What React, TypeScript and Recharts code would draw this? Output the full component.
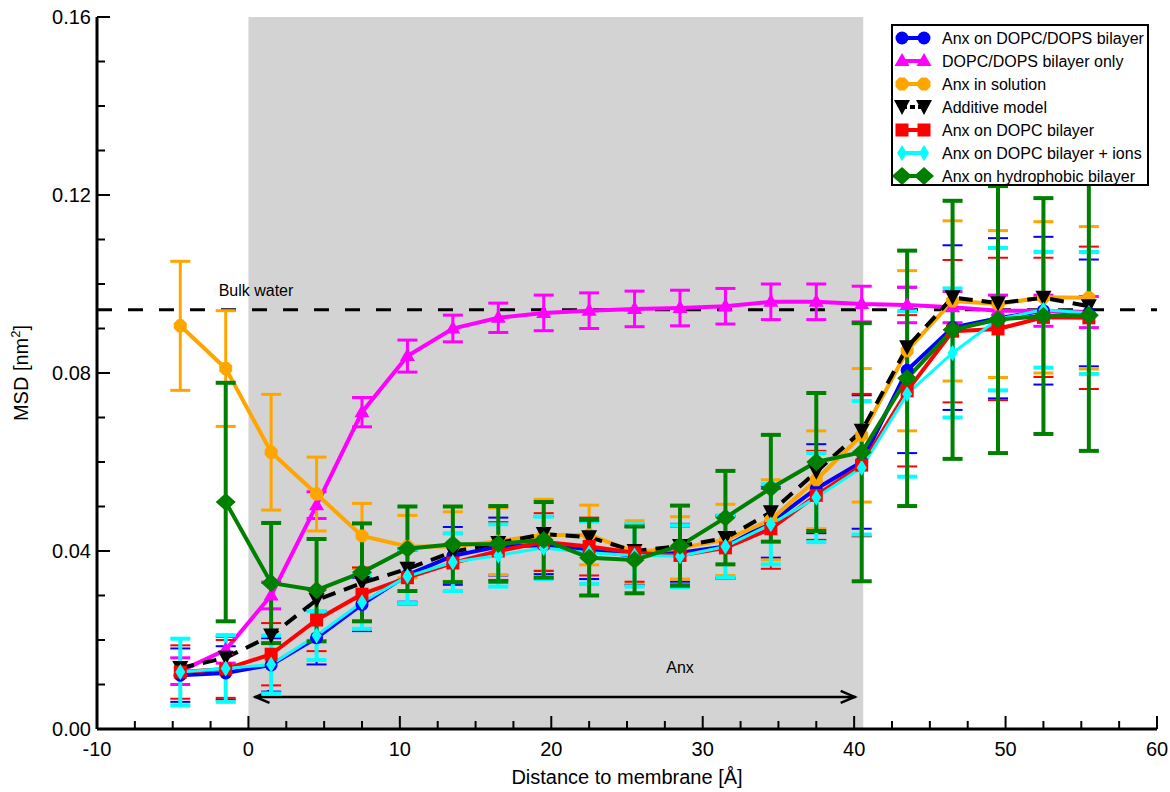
import { ComposedChart, Line, XAxis, YAxis, ErrorBar, ReferenceArea, ReferenceLine, ReferenceDot, Label } from "recharts";

// distance to membrane [Å]
const distance = [-4.5, -1.5, 1.5, 4.5, 7.5, 10.5, 13.5, 16.5, 19.5, 22.5, 25.5, 28.5, 31.5, 34.5, 37.5, 40.5, 43.5, 46.5, 49.5, 52.5, 55.5];

const anxDopcDops = [0.0121, 0.0126, 0.0144, 0.0205, 0.028, 0.0346, 0.0389, 0.041, 0.0413, 0.0402, 0.0389, 0.0396, 0.041, 0.0465, 0.054, 0.06, 0.0806, 0.0902, 0.0923, 0.094, 0.0935];
const anxDopcDopsErr = [0.006, 0.006, 0.006, 0.006, 0.006, 0.006, 0.0065, 0.0065, 0.0065, 0.0065, 0.0065, 0.0065, 0.007, 0.008, 0.01, 0.015, 0.0186, 0.0185, 0.018, 0.0166, 0.012];

const bilayerOnly = [0.013, 0.0178, 0.03, 0.0503, 0.0712, 0.0838, 0.09, 0.0924, 0.0935, 0.094, 0.0944, 0.0946, 0.095, 0.096, 0.096, 0.0955, 0.0953, 0.0948, 0.094, 0.094, 0.0937];
const bilayerOnlyErr = [0.003, 0.003, 0.003, 0.003, 0.0033, 0.0036, 0.003, 0.0033, 0.004, 0.004, 0.004, 0.004, 0.004, 0.004, 0.004, 0.004, 0.004, 0.0035, 0.0035, 0.0035, 0.0035];

const anxSolution = [0.0906, 0.081, 0.0622, 0.0528, 0.0434, 0.041, 0.041, 0.0422, 0.0436, 0.0436, 0.0398, 0.0407, 0.0425, 0.047, 0.056, 0.066, 0.085, 0.0962, 0.0955, 0.097, 0.0969];
const anxSolutionErr = [0.0145, 0.013, 0.013, 0.0083, 0.0073, 0.007, 0.0078, 0.0075, 0.008, 0.0067, 0.007, 0.007, 0.008, 0.009, 0.011, 0.015, 0.018, 0.018, 0.0165, 0.017, 0.016];

const additiveModel = [0.0137, 0.016, 0.021, 0.029, 0.0328, 0.036, 0.0398, 0.0418, 0.0438, 0.0431, 0.04, 0.0411, 0.0429, 0.0487, 0.0578, 0.067, 0.0858, 0.097, 0.0957, 0.0969, 0.095];

const anxDopc = [0.0128, 0.0135, 0.0168, 0.0245, 0.0303, 0.034, 0.0373, 0.04, 0.042, 0.041, 0.0396, 0.039, 0.0407, 0.045, 0.0525, 0.0593, 0.076, 0.0894, 0.0899, 0.0925, 0.0924];
const anxDopcErr = [0.006, 0.0065, 0.007, 0.007, 0.006, 0.006, 0.0065, 0.0065, 0.0065, 0.0065, 0.0065, 0.0065, 0.007, 0.009, 0.01, 0.016, 0.017, 0.016, 0.016, 0.0134, 0.016];

const anxDopcIons = [0.0128, 0.0136, 0.0145, 0.021, 0.0285, 0.0343, 0.0375, 0.039, 0.0407, 0.0396, 0.039, 0.0388, 0.041, 0.046, 0.052, 0.0587, 0.0753, 0.0845, 0.0921, 0.0942, 0.0935];
const anxDopcIonsErr = [0.0075, 0.0075, 0.0065, 0.0055, 0.006, 0.006, 0.0065, 0.007, 0.007, 0.007, 0.007, 0.007, 0.007, 0.009, 0.01, 0.015, 0.0186, 0.0145, 0.016, 0.013, 0.0137];

const anxHydrophobic = [null, 0.051, 0.0328, 0.0312, 0.0352, 0.0405, 0.0415, 0.0416, 0.0425, 0.0385, 0.038, 0.0412, 0.0475, 0.0541, 0.06, 0.0622, 0.0788, 0.0897, 0.092, 0.0928, 0.093];
const anxHydrophobicErr = [null, 0.0268, 0.0135, 0.0115, 0.011, 0.0095, 0.0085, 0.0085, 0.0085, 0.0085, 0.0075, 0.009, 0.0105, 0.012, 0.0155, 0.029, 0.0287, 0.029, 0.03, 0.0265, 0.0305];

const xMajorTicks = [-10, 0, 10, 20, 30, 40, 50, 60];
const yMajorTicks = [0, 0.04, 0.08, 0.12, 0.16];

// annotations
const bulkWater = 0.0942;
const anxRegion = [0, 40.6];
const anxArrow = [0.4, 40.1, 0.0072];

const FONT = '"Liberation Sans", Arial, Helvetica, sans-serif';

const data = distance.map((x, i) => ({
  x,
  anxDopcDops: anxDopcDops[i], anxDopcDopsErr: anxDopcDopsErr[i],
  bilayerOnly: bilayerOnly[i], bilayerOnlyErr: bilayerOnlyErr[i],
  anxSolution: anxSolution[i], anxSolutionErr: anxSolutionErr[i],
  additiveModel: additiveModel[i],
  anxDopc: anxDopc[i], anxDopcErr: anxDopcErr[i],
  anxDopcIons: anxDopcIons[i], anxDopcIonsErr: anxDopcIonsErr[i],
  anxHydrophobic: anxHydrophobic[i], anxHydrophobicErr: anxHydrophobicErr[i],
}));

const xTicks = xMajorTicks.slice(0, -1).flatMap(v => [v, v + 2.5, v + 5, v + 7.5]).concat(60);
const yTicks = yMajorTicks.slice(0, -1).flatMap(v => [v, v + 0.01, v + 0.02, v + 0.03]).concat(0.16);

const isMajor = (v: number, step: number) => Math.abs(v / step - Math.round(v / step)) < 1e-6;

type Series = { key: string; name: string; color: string; shape: string; width: number; dash?: string; errWidth?: number };

const SERIES: Series[] = [
  { key: "anxDopcDops", name: "Anx on DOPC/DOPS bilayer", color: "#0000ff", shape: "circle", width: 4, errWidth: 2 },
  { key: "bilayerOnly", name: "DOPC/DOPS bilayer only", color: "#ff00ff", shape: "triUp", width: 4, errWidth: 3 },
  { key: "anxSolution", name: "Anx in solution", color: "#ffa500", shape: "octagon", width: 4, errWidth: 3 },
  { key: "additiveModel", name: "Additive model", color: "#000000", shape: "triDown", width: 4, dash: "14 9" },
  { key: "anxDopc", name: "Anx on DOPC bilayer", color: "#ff0000", shape: "square", width: 4, errWidth: 2 },
  { key: "anxDopcIons", name: "Anx on DOPC bilayer + ions", color: "#00ffff", shape: "thinDiamond", width: 3, errWidth: 4 },
  { key: "anxHydrophobic", name: "Anx on hydrophobic bilayer", color: "#008000", shape: "diamond", width: 4, errWidth: 4 },
];

function shapeAt(shape: string, cx: number, cy: number, color: string, key?: any) {
  switch (shape) {
    case "circle":
      return <circle key={key} cx={cx} cy={cy} r={6.5} fill={color} />;
    case "triUp":
      return <polygon key={key} points={`${cx},${cy - 8} ${cx - 7.5},${cy + 5} ${cx + 7.5},${cy + 5}`} fill={color} />;
    case "octagon": {
      const r = 7;
      const pts = [0, 1, 2, 3, 4, 5, 6, 7].map(k => {
        const a = (Math.PI / 4) * k + Math.PI / 8;
        return `${cx + r * Math.cos(a)},${cy + r * Math.sin(a)}`;
      }).join(" ");
      return <polygon key={key} points={pts} fill={color} />;
    }
    case "triDown":
      return <polygon key={key} points={`${cx - 8},${cy - 7} ${cx + 8},${cy - 7} ${cx},${cy + 8}`} fill={color} />;
    case "square":
      return <rect key={key} x={cx - 6.5} y={cy - 6.5} width={13} height={13} fill={color} />;
    case "thinDiamond":
      return <polygon key={key} points={`${cx},${cy - 8} ${cx + 5},${cy} ${cx},${cy + 8} ${cx - 5},${cy}`} fill={color} />;
    default:
      return <polygon key={key} points={`${cx},${cy - 9} ${cx + 10},${cy} ${cx},${cy + 9} ${cx - 10},${cy}`} fill={color} />;
  }
}

const makeDot = (s: Series) => (props: any) => {
  const { cx, cy, index, value } = props;
  if (cx == null || cy == null || value == null) return <g key={`e${index}`} />;
  return shapeAt(s.shape, cx, cy, s.color, `d${index}`);
};

const BottomTick = (props: any) => {
  const { x, y, payload } = props;
  const major = isMajor(payload.value, 10);
  return (
    <g>
      <line x1={x} x2={x} y1={y} y2={y - (major ? 13 : 8)} stroke="#000" strokeWidth={2} />
      {major && (
        <text x={x} y={y + 27} textAnchor="middle" fontSize={20} fontFamily={FONT} fill="#000">{payload.value}</text>
      )}
    </g>
  );
};

const TopTick = (props: any) => {
  const { x, y, payload } = props;
  const major = isMajor(payload.value, 10);
  return <line x1={x} x2={x} y1={y} y2={y + (major ? 13 : 8)} stroke="#000" strokeWidth={2} />;
};

const LeftTick = (props: any) => {
  const { x, y, payload } = props;
  const major = isMajor(payload.value, 0.04);
  return (
    <g>
      <line x1={x} x2={x + (major ? 13 : 8)} y1={y} y2={y} stroke="#000" strokeWidth={2} />
      {major && (
        <text x={x - 6} y={y} dy="0.36em" textAnchor="end" fontSize={20} fontFamily={FONT} fill="#000">{payload.value.toFixed(2)}</text>
      )}
    </g>
  );
};

const RightTick = (props: any) => {
  const { x, y, payload } = props;
  const major = isMajor(payload.value, 0.04);
  return <line x1={x} x2={x - (major ? 13 : 8)} y1={y} y2={y} stroke="#000" strokeWidth={2} />;
};

const ArrowShape = (p: any) => {
  const { x1, y1, x2, y2 } = p;
  return (
    <g>
      <line x1={x1} y1={y1} x2={x2} y2={y2} stroke="#000" strokeWidth={2.5} />
      <polyline points={`${x1 + 15},${y1 - 6} ${x1 + 1},${y1} ${x1 + 15},${y1 + 6}`} fill="none" stroke="#000" strokeWidth={2.5} />
      <polyline points={`${x2 - 15},${y2 - 6} ${x2 - 1},${y2} ${x2 - 15},${y2 + 6}`} fill="none" stroke="#000" strokeWidth={2.5} />
    </g>
  );
};

const textShape = (txt: string) => (p: any) => (
  <text x={p.cx} y={p.cy} textAnchor="middle" fontSize={16} fontFamily={FONT} fill="#000">{txt}</text>
);

function LegendBox() {
  return (
    <div style={{ position: "absolute", left: 891, top: 24, width: 258, height: 162, background: "#fff", border: "2px solid #000", boxSizing: "border-box" }}>
      <svg width={254} height={158}>
        {SERIES.map((s, i) => {
          const cy = 12 + i * 23;
          return (
            <g key={s.key}>
              <line x1={9} x2={31} y1={cy} y2={cy} stroke={s.color} strokeWidth={4} strokeDasharray={s.dash ? "5 3" : undefined} />
              {shapeAt(s.shape, 9, cy, s.color)}
              {shapeAt(s.shape, 31, cy, s.color)}
              <text x={49} y={cy} dy="0.36em" fontSize={16} fontFamily={FONT} fill="#000">{s.name}</text>
            </g>
          );
        })}
      </svg>
    </div>
  );
}

export default function App() {
  return (
    <div style={{ position: "absolute", left: 0, top: 0, width: 1170, height: 792, background: "#fff" }}>
      <ComposedChart width={1170} height={792} data={data} margin={{ top: 17, right: 13, bottom: 0, left: 0 }}>
        <XAxis type="number" dataKey="x" domain={[-10, 60]} ticks={xTicks} interval={0} allowDataOverflow
          tickSize={0} tickMargin={0} tickLine={false} tick={<BottomTick />} height={63}
          axisLine={{ stroke: "#000", strokeWidth: 3 }}>
          <Label content={(p: any) => {
            const vb = p.viewBox;
            return <text x={vb.x + vb.width / 2} y={vb.y + 55} textAnchor="middle" fontSize={20} fontFamily={FONT} fill="#000">Distance to membrane [Å]</text>;
          }} />
        </XAxis>
        <XAxis xAxisId="top" orientation="top" type="number" dataKey="x" domain={[-10, 60]} ticks={xTicks} interval={0} allowDataOverflow
          tickSize={0} tickMargin={0} tickLine={false} tick={<TopTick />} height={0}
          axisLine={{ stroke: "#000", strokeWidth: 3 }} />
        <YAxis type="number" domain={[0, 0.16]} ticks={yTicks} interval={0} allowDataOverflow
          tickSize={0} tickMargin={0} tickLine={false} tick={<LeftTick />} width={97}
          axisLine={{ stroke: "#000", strokeWidth: 3 }}>
          <Label content={(p: any) => {
            const vb = p.viewBox;
            const cx = vb.x + 28;
            const cy = vb.y + vb.height / 2;
            return (
              <text x={cx} y={cy} transform={`rotate(-90 ${cx} ${cy})`} textAnchor="middle" fontSize={20} fontFamily={FONT} fill="#000">
                MSD [nm<tspan dy={-8} fontSize={13}>2</tspan><tspan dy={8}>]</tspan>
              </text>
            );
          }} />
        </YAxis>
        <YAxis yAxisId="right" orientation="right" type="number" domain={[0, 0.16]} ticks={yTicks} interval={0} allowDataOverflow
          tickSize={0} tickMargin={0} tickLine={false} tick={<RightTick />} width={0}
          axisLine={{ stroke: "#000", strokeWidth: 3 }} />

        <ReferenceArea x1={anxRegion[0]} x2={anxRegion[1]} y1={0} y2={0.16} fill="#d3d3d3" fillOpacity={1} stroke="none" />
        <ReferenceLine y={bulkWater} stroke="#000" strokeWidth={3} strokeDasharray="15 16" />
        <ReferenceDot x={0.5} y={0.0973} r={0} shape={textShape("Bulk water")} />
        <ReferenceDot x={28.5} y={0.0126} r={0} shape={textShape("Anx")} />
        <ReferenceLine segment={[{ x: anxArrow[0], y: anxArrow[2] }, { x: anxArrow[1], y: anxArrow[2] }]} shape={ArrowShape} />

        {SERIES.map(s => (
          <Line key={s.key} type="linear" dataKey={s.key} stroke={s.color} strokeWidth={s.width}
            strokeDasharray={s.dash} dot={makeDot(s)} activeDot={false} isAnimationActive={false} connectNulls={false}>
            {s.errWidth && (
              <ErrorBar dataKey={s.key + "Err"} direction="y" width={10} stroke={s.color} strokeWidth={s.errWidth} isAnimationActive={false} />
            )}
          </Line>
        ))}
      </ComposedChart>
      <LegendBox />
    </div>
  );
}
